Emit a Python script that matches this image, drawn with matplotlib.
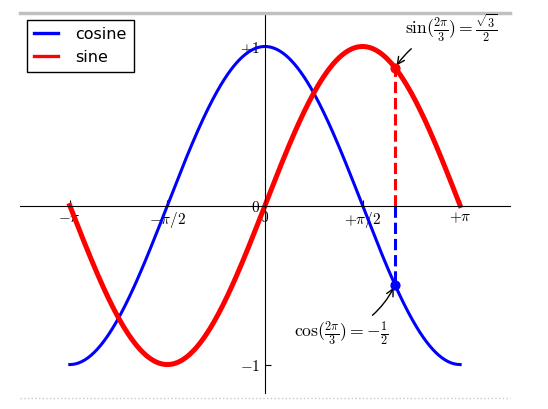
import numpy as np
import matplotlib
matplotlib.use('Agg')
import matplotlib.pyplot as plt
from matplotlib.lines import Line2D

plt.rcParams['mathtext.fontset'] = 'cm'

# data: the two curves and the marked point
x = np.linspace(-np.pi, np.pi, 256)
cosine = np.cos(x)
sine = np.sin(x)
t = 2 * np.pi / 3

xtick_vals = [-np.pi, -np.pi / 2, 0, np.pi / 2, np.pi]
xtick_labels = [r'$-\pi$', r'$-\pi/2$', r'$0$', r'$+\pi/2$', r'$+\pi$']
ytick_vals = [-1, 0, 1]
ytick_labels = [r'$-1$', r'$0$', r'$+1$']

fig = plt.figure(figsize=(5.48, 4.09), dpi=100)
ax = fig.add_axes([0.0365, 0.027, 0.894, 0.941])

ax.plot(x, cosine, color='blue', linewidth=2.2, linestyle='-', label='cosine')
ax.plot(x, sine, color='red', linewidth=3.6, linestyle='-', label='sine')

ax.set_xlim(-1.255 * np.pi, 1.255 * np.pi)
ax.set_ylim(-1.21, 1.21)

ax.spines['right'].set_color('none')
ax.spines['top'].set_color('#c0c0c0')
ax.spines['top'].set_linewidth(2.5)
ax.spines['bottom'].set_position(('data', 0))
ax.spines['left'].set_position(('data', 0))
ax.spines['left'].set_bounds(-1.18, 1.2)
ax.xaxis.set_ticks_position('bottom')
ax.yaxis.set_ticks_position('left')
ax.tick_params(direction='in', length=4, width=0.8)

# faint dotted frame edge at the bottom
ax.add_line(Line2D([0, 1], [0, 0], transform=ax.transAxes, color='#c8c8c8',
                   linestyle=':', linewidth=1, clip_on=False))

ax.set_xticks(xtick_vals)
ax.set_xticklabels(xtick_labels)
ax.set_yticks(ytick_vals)
ax.set_yticklabels(ytick_labels)

leg = ax.legend(loc='upper left', frameon=True, fancybox=False, edgecolor='black',
                framealpha=1, fontsize=11.5, handlelength=1.5, handletextpad=1.1,
                borderpad=0.42, borderaxespad=0.45)
for h in leg.legend_handles:
    h.set_linewidth(2.4)

ax.plot([t, t], [0, np.cos(t)], color='blue', linewidth=2.2, linestyle='--')
ax.scatter([t], [np.cos(t)], 40, color='blue', zorder=5)
ax.annotate(r'$\cos(\frac{2\pi}{3})=-\frac{1}{2}$',
            xy=(t, np.cos(t)), xycoords='data',
            xytext=(-73, -38), textcoords='offset points', fontsize=12.7,
            arrowprops=dict(arrowstyle='->', connectionstyle='arc3,rad=.2'))

ax.plot([t, t], [0, np.sin(t)], color='red', linewidth=2.2, linestyle='--')
ax.scatter([t], [np.sin(t)], 40, color='red', zorder=5)
ax.annotate(r'$\sin(\frac{2\pi}{3})=\frac{\sqrt{3}}{2}$',
            xy=(t, np.sin(t)), xycoords='data',
            xytext=(7, 24), textcoords='offset points', fontsize=12.7,
            arrowprops=dict(arrowstyle='->', connectionstyle='arc3,rad=.2'))

for label in ax.get_xticklabels() + ax.get_yticklabels():
    label.set_fontsize(11)
    label.set_bbox(dict(facecolor='white', edgecolor='None', alpha=0.65))

fig.savefig('out.png', dpi=100)
